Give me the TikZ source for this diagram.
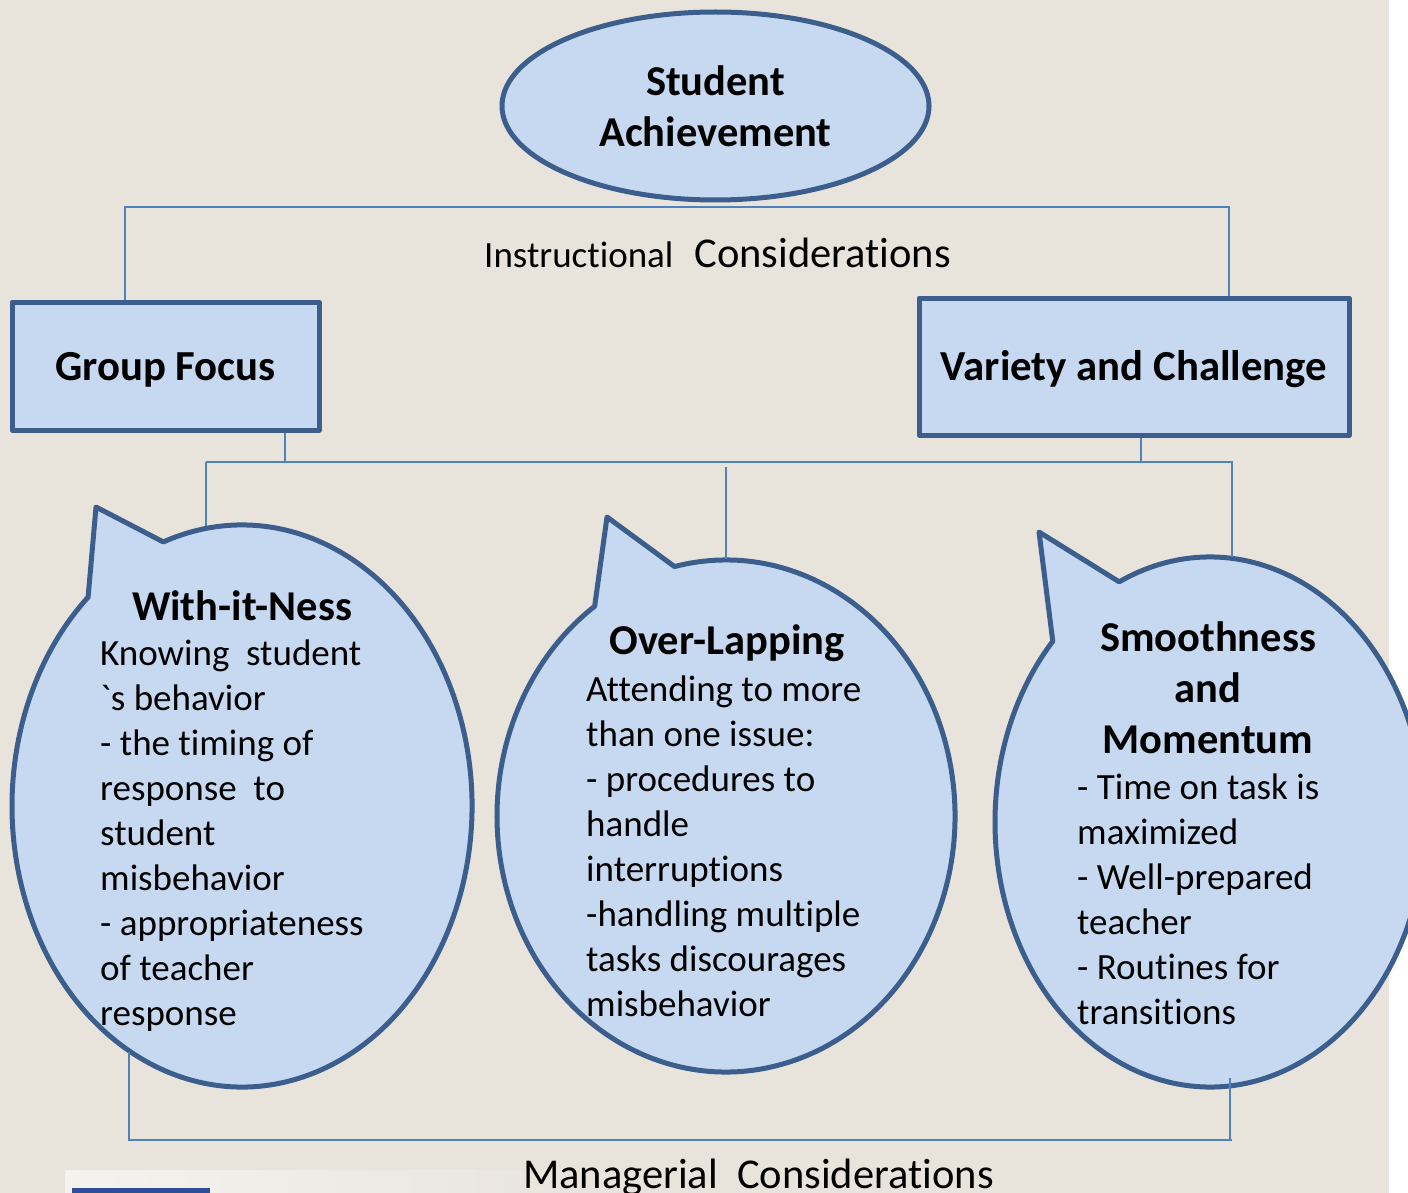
\documentclass[tikz,border=0pt]{standalone}
\usepackage{fontspec}
\newfontfamily\cf{Carlito}[RawFeature={-liga;-clig;-dlig;-calt;-rlig}]
\usetikzlibrary{shapes.geometric}
\definecolor{pagebg}{RGB}{232,228,220}
\definecolor{shapefill}{RGB}{198,217,240}
\definecolor{shapeedge}{RGB}{59,94,141}
\definecolor{linkblue}{RGB}{79,129,189}
\definecolor{barblue}{RGB}{46,78,152}
\begin{document}
\begin{tikzpicture}[x=1pt,y=-1pt,
  link/.style={draw=linkblue, line width=2pt},
  bubble/.style={fill=shapefill, draw=shapeedge, line width=5pt, line join=round},
  boxnode/.style={bubble, rectangle, inner sep=0pt,
    font=\cf\bfseries\fontsize{42.8}{51}\selectfont, text height=36pt, text depth=8pt},
  title/.style={anchor=base, inner sep=0pt, align=center,
    font=\cf\bfseries\fontsize{42.5}{51}\selectfont},
  body/.style={anchor=base west, inner sep=0pt, align=left,
    font=\cf\fontsize{37}{45}\selectfont},
  caption/.style={anchor=base west, inner sep=0pt,
    font=\cf\fontsize{42.5}{51}\selectfont}]

\useasboundingbox (0,0) rectangle (1408,1193);
% page background and right margin strip
\fill[pagebg] (0,0) rectangle (1389,1193);
\fill[white] (1389,0) rectangle (1408,1193);
\shade[left color=white!55!pagebg, right color=pagebg] (65,1170) rectangle (600,1193);
\fill[barblue] (72,1188) rectangle (210,1193);

% top goal and the two instructional boxes
\node[bubble, ellipse, minimum width=427pt, minimum height=188pt, inner sep=0pt,
  align=center, font=\cf\bfseries\fontsize{42.5}{51}\selectfont]
  (ach) at (715.5,106) {Student\\Achievement};
\node[boxnode, minimum width=307pt, minimum height=128pt] (gf) at (165.5,366) {Group Focus};
\node[boxnode, minimum width=430pt, minimum height=137pt] (vc) at (1134,366.5) {Variety and Challenge};

% instructional bracket
\coordinate (tl) at (125,207);
\coordinate (tr) at (1229,207);
\draw[link] (gf.north -| tl) |- (tr) -- (vc.north -| tr);
\node[caption] (instr) at (484,267)
  {{\fontsize{37}{45}\selectfont Instructional}\hspace{21pt}Considerations};

% speech-bubble outlines: ellipse arc plus pointer
\coordinate (cL) at (242,806);
\coordinate (cM) at (726,816);
\coordinate (cR) at (1210,822);
\coordinate (tipL) at (96,507);
\coordinate (tipM) at (607,517);
\coordinate (tipR) at (1039,532);
\draw[bubble] (cL) ++(250:230 and 281)
  arc[start angle=250, end angle=588, x radius=230, y radius=281] -- (tipL) -- cycle;
\draw[bubble] (cM) ++(257:229 and 256)
  arc[start angle=257, end angle=595, x radius=229, y radius=256] -- (tipM) -- cycle;
\draw[bubble] (cR) ++(245:215 and 265)
  arc[start angle=245, end angle=583, x radius=215, y radius=265] -- (tipR) -- cycle;

% branch bracket from the boxes down to the bubbles
\coordinate (ml) at (206,462);
\coordinate (mr) at (1233,462);
\coordinate (gfdrop) at (285,462);
\coordinate (vcdrop) at (1141,462);
\coordinate (midgap) at (726,467);
\coordinate (rdrop) at (1232,462);
\coordinate (topL) at (206,526);
\coordinate (topM) at (726,559);
\coordinate (topR) at (1232,557);
\draw[link] (ml) -- (mr);
\draw[link] (gf.south -| gfdrop) -- (gfdrop);
\draw[link] (vc.south -| vcdrop) -- (vcdrop);
\draw[link] (ml) -- (topL);
\draw[link] (midgap) -- (topM);
\draw[link] (rdrop) -- (topR);

% managerial bracket under the bubbles
\coordinate (botL) at (129,1052);
\coordinate (botR) at (1230,1078);
\coordinate (bl) at (129,1140);
\coordinate (br) at (1232,1140);
\draw[link] (botL) -- (bl) -- (br);
\draw[link] (br -| botR) -- (botR);
\node[caption] (manag) at (523,1188) {Managerial\ \ Considerations};

% bubble texts (multi-line nodes sit on the baseline of their last line)
\node[title] (tL) at (242,620) {With-it-Ness};
\node[body] (bL) at (100,1025) {Knowing\ \ student\\`s behavior\\- the timing of\\response\ \ to\\student\\misbehavior\\- appropriateness\\of teacher\\response};
\node[title] (tM) at (727,654) {Over-Lapping};
\node[body] (bM) at (586,1016) {Attending to more\\than one issue:\\- procedures to\\handle\\interruptions\\-handling multiple\\tasks discourages\\misbehavior};
\node[title] (tR) at (1208,753) {Smoothness\\and\\Momentum};
\node[body] (bR) at (1077,1024) {- Time on task is\\maximized\\- Well-prepared\\teacher\\- Routines for\\transitions};
\end{tikzpicture}
\end{document}
